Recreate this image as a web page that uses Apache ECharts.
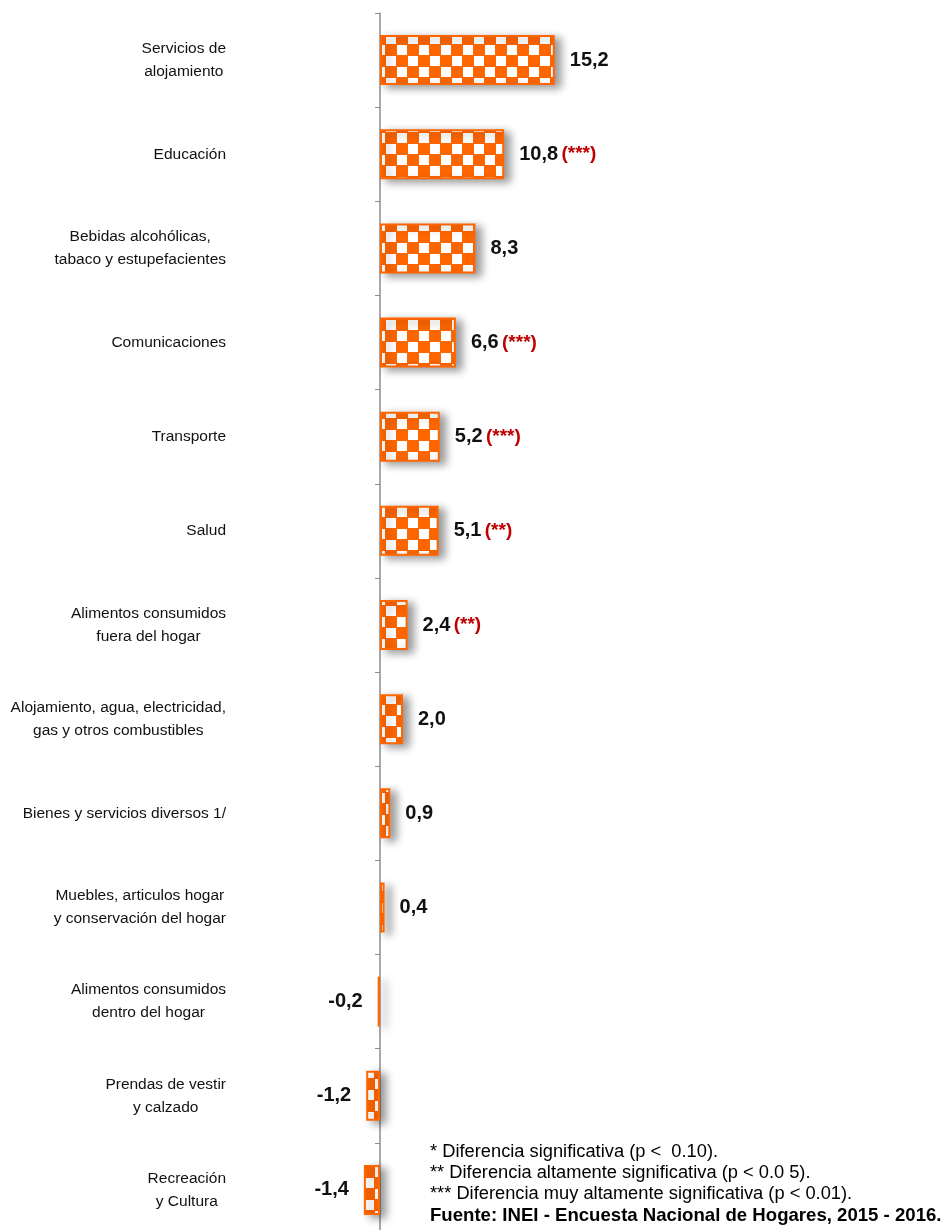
<!DOCTYPE html>
<html>
<head>
<meta charset="utf-8">
<script src="https://cdn.jsdelivr.net/npm/echarts@6/dist/echarts.min.js"></script>
<style>
  html, body { margin: 0; padding: 0; background: #fff; }
  #chart { width: 945px; height: 1230px; }
</style>
</head>
<body>
<div id="chart"></div>
<script>
// categorias (de arriba hacia abajo)
var categorias = [
    'Servicios de\nalojamiento',
    'Educación',
    'Bebidas alcohólicas,\ntabaco y estupefacientes',
    'Comunicaciones',
    'Transporte',
    'Salud',
    'Alimentos consumidos\nfuera del hogar',
    'Alojamiento, agua, electricidad,\ngas y otros combustibles',
    'Bienes y servicios diversos 1/',
    'Muebles, articulos hogar\ny conservación del hogar',
    'Alimentos consumidos\ndentro del hogar',
    'Prendas de vestir\ny calzado',
    'Recreación\ny Cultura'
];
var variacion = [15.2, 10.8, 8.3, 6.6, 5.2, 5.1, 2.4, 2.0, 0.9, 0.4, -0.2, -1.2, -1.4];
var significancia = ['', '(***)', '', '(***)', '(***)', '(**)', '(**)', '', '', '', '', '', ''];
var notas = [
    '* Diferencia significativa (p <  0.10).',
    '** Diferencia altamente significativa (p < 0.0 5).',
    '*** Diferencia muy altamente significativa (p < 0.01).'
];
var fuente = 'Fuente: INEI - Encuesta Nacional de Hogares, 2015 - 2016.';

var FONT = '"Liberation Sans", Arial, sans-serif';

// patron de cuadros naranja / blanco
function tablero() {
    var c = document.createElement('canvas');
    c.width = 22; c.height = 22;
    var ctx = c.getContext('2d');
    ctx.fillStyle = '#FF6600';
    ctx.fillRect(0, 0, 22, 22);
    ctx.fillStyle = '#ffffff';
    ctx.fillRect(1, 1, 10, 10);
    ctx.fillRect(12, 12, 10, 10);
    return c;
}

var datos = [];
for (var i = 0; i < variacion.length; i++) {
    datos.push({
        value: variacion[i],
        label: { position: variacion[i] < 0 ? 'left' : 'right' }
    });
}

var notasGraf = [];
for (var j = 0; j < notas.length; j++) {
    notasGraf.push({
        type: 'text', left: 430, top: 1143 + j * 21,
        style: { text: notas[j], font: '18.3px ' + FONT, fill: '#000' }
    });
}
notasGraf.push({
    type: 'text', left: 430, top: 1143 + 3 * 21,
    style: { text: fuente, font: 'bold 18.6px ' + FONT, fill: '#000' }
});

var myChart = echarts.init(document.getElementById('chart'));
var option = {
    backgroundColor: '#fff',
    animation: false,
    grid: { left: 322.5, width: 575, top: 13, height: 1224, outerBoundsMode: 'none', containLabel: false },
    xAxis: {
        type: 'value', min: -5, max: 45,
        show: false
    },
    yAxis: {
        type: 'category',
        data: categorias,
        inverse: true,
        axisLine: { onZero: true, lineStyle: { color: '#8c8c8c', width: 1.5 } },
        axisTick: { show: true, length: 5, lineStyle: { color: '#8c8c8c' } },
        axisLabel: {
            margin: 96.5,
            color: '#111',
            fontFamily: FONT,
            fontSize: 15.5,
            lineHeight: 23,
            formatter: function (v) {
                return v.split('\n').map(function (s) { return '{c|' + s + '}'; }).join('\n');
            },
            rich: { c: { align: 'center', fontSize: 15.5, lineHeight: 23 } }
        },
        splitLine: { show: false }
    },
    series: [{
        type: 'bar',
        data: datos,
        barWidth: 50,
        itemStyle: {
            color: { image: tablero(), repeat: 'repeat' },
            borderColor: '#FF6600',
            borderWidth: 2,
            shadowColor: 'rgba(0,0,0,0.4)',
            shadowBlur: 9,
            shadowOffsetX: 6,
            shadowOffsetY: 3
        },
        label: {
            show: true,
            distance: 15,
            formatter: function (p) {
                var s = p.value.toFixed(1).replace('.', ',');
                var a = significancia[p.dataIndex];
                return '{v|' + s + '}' + (a ? ' {s|' + a + '}' : '');
            },
            rich: {
                v: { fontFamily: FONT, fontWeight: 'bold', fontSize: 20, color: '#111' },
                s: { fontFamily: FONT, fontWeight: 'bold', fontSize: 19, color: '#C00000' }
            }
        }
    }],
    graphic: notasGraf
};
myChart.setOption(option);
</script>
</body>
</html>
